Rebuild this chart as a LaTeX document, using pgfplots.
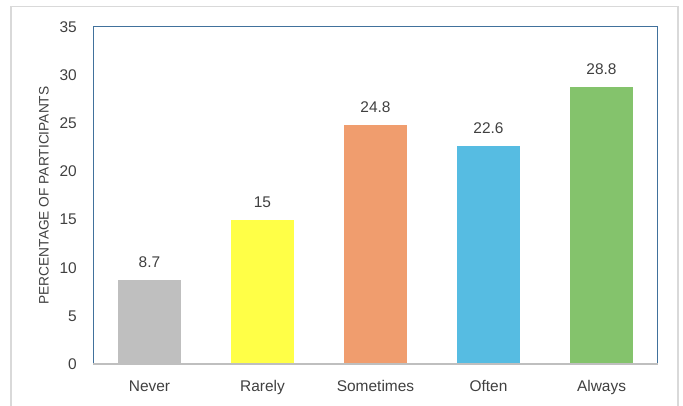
\documentclass[border=0pt]{standalone}
\usepackage{pgfplots}
\pgfplotsset{compat=1.18}
\usepackage{fontspec}
\setmainfont{Liberation Sans}

\definecolor{txt}{HTML}{404040}
\definecolor{framegray}{HTML}{D9D9D9}
\definecolor{boxblue}{HTML}{41719C}
\definecolor{axisgray}{HTML}{BFBFBF}
\definecolor{cNever}{HTML}{BFBFBF}
\definecolor{cRarely}{HTML}{FFFF47}
\definecolor{cSometimes}{HTML}{F09D6E}
\definecolor{cOften}{HTML}{56BCE2}
\definecolor{cAlways}{HTML}{84C36C}

\begin{document}
\begin{tikzpicture}[x=0.75pt,y=0.75pt]
  % page size and outer frame
  \path[use as bounding box] (0,0) rectangle (683,406);
  \draw[framegray, line width=1.1pt] (11,0) -- (11,399.5) -- (678,399.5) -- (678,0);

  \begin{axis}[
    at={(69.75pt,31.5pt)}, anchor=south west,
    scale only axis,
    width=423.75pt, height=252.75pt,
    xmin=-0.5, xmax=4.5,
    ymin=0, ymax=35,
    ytick={0,5,...,35},
    xtick={0,1,2,3,4},
    xticklabels={Never,Rarely,Sometimes,Often,Always},
    major tick length=0pt,
    axis line style={boxblue, line width=0.75pt},
    tick label style={font=\fontsize{11.6}{13}\selectfont, text=txt, inner sep=0pt},
    /pgf/number format/assume math mode=true,
    yticklabel style={anchor=east, xshift=-12pt},
    xticklabel style={anchor=base, yshift=-20.5pt},
    every axis y label/.style={at={(rel axis cs:0,0.5)}, xshift=-36.75pt, rotate=90, anchor=center},
    ylabel={PERCENTAGE OF PARTICIPANTS},
    label style={font=\fontsize{10.3}{12}\selectfont, text=txt},
    ybar, bar width=47.25pt, bar shift=0pt,
    nodes near coords,
    point meta=explicit symbolic,
    every node near coord/.append style={font=\fontsize{11.6}{13}\selectfont, text=txt, anchor=south, inner sep=0pt, yshift=9pt},
    clip=false,
  ]
    \addplot[draw=none, fill=cNever]     coordinates {(0,8.7)  [8.7]};
    \addplot[draw=none, fill=cRarely]    coordinates {(1,15)   [15]};
    \addplot[draw=none, fill=cSometimes] coordinates {(2,24.8) [24.8]};
    \addplot[draw=none, fill=cOften]     coordinates {(3,22.6) [22.6]};
    \addplot[draw=none, fill=cAlways]    coordinates {(4,28.8) [28.8]};
    % grey category axis along the bottom
    \draw[axisgray, line width=1.3pt] (rel axis cs:0,0) -- (rel axis cs:1,0);
  \end{axis}
\end{tikzpicture}
\end{document}
